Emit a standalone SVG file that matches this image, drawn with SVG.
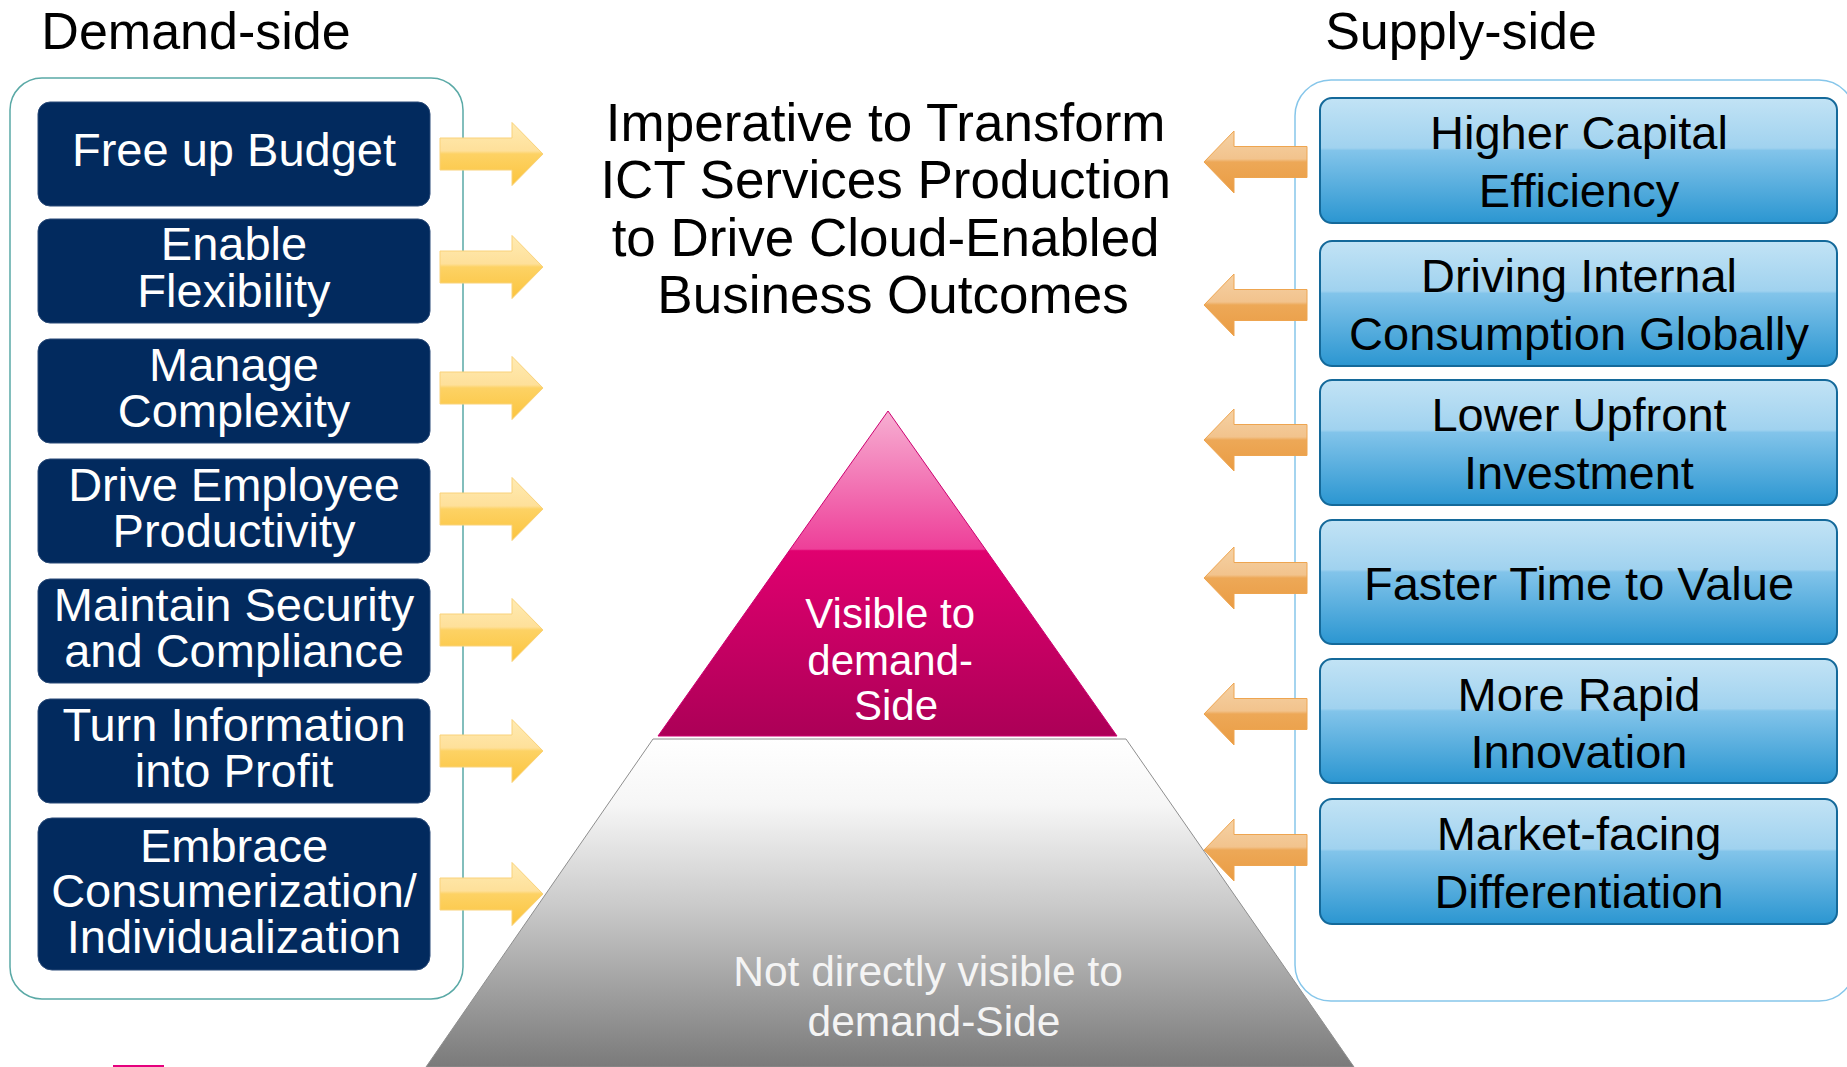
<svg xmlns="http://www.w3.org/2000/svg" width="1847" height="1067" viewBox="0 0 1847 1067">
<defs>
<style>
.t{font-family:"Liberation Sans",Arial,sans-serif;text-anchor:middle}
.dbox{fill:#022A5E;stroke:#2a4a78;stroke-width:1}
.dtxt{fill:#FFFFFF;font-size:47px}
.bbox{fill:url(#gBlue);stroke:#14699A;stroke-width:2}
.btxt{fill:#000000;font-size:47px}
.yarr{fill:url(#gYel);stroke:#F9D27A;stroke-width:1}
.oarr{fill:url(#gOra);stroke:#EEA550;stroke-width:1}
</style>
<linearGradient id="gBlue" x1="0" y1="0" x2="0" y2="1">
<stop offset="0" stop-color="#C2E3F5"/>
<stop offset="0.40" stop-color="#A0D2EF"/>
<stop offset="0.42" stop-color="#82C4EA"/>
<stop offset="1" stop-color="#2B96D1"/>
</linearGradient>
<linearGradient id="gYel" x1="0" y1="0" x2="0" y2="1">
<stop offset="0" stop-color="#FFEBB3"/>
<stop offset="0.45" stop-color="#FEE09A"/>
<stop offset="0.5" stop-color="#FDD264"/>
<stop offset="1" stop-color="#FBC43E"/>
</linearGradient>
<linearGradient id="gOra" x1="0" y1="0" x2="0" y2="1">
<stop offset="0" stop-color="#F5D1A4"/>
<stop offset="0.45" stop-color="#F2C38D"/>
<stop offset="0.5" stop-color="#EDA857"/>
<stop offset="1" stop-color="#EA9C43"/>
</linearGradient>
<linearGradient id="gPink" gradientUnits="userSpaceOnUse" x1="0" y1="411" x2="0" y2="736">
<stop offset="0" stop-color="#F7AFD2"/>
<stop offset="0.425" stop-color="#EE3F99"/>
<stop offset="0.43" stop-color="#E0006F"/>
<stop offset="1" stop-color="#AC0057"/>
</linearGradient>
<linearGradient id="gGray" gradientUnits="userSpaceOnUse" x1="0" y1="739" x2="0" y2="1067">
<stop offset="0" stop-color="#FFFFFF"/>
<stop offset="0.2" stop-color="#F6F6F6"/>
<stop offset="0.5" stop-color="#CBCBCB"/>
<stop offset="1" stop-color="#7A7A7A"/>
</linearGradient>
</defs>
<rect width="1847" height="1067" fill="#FFFFFF"/>

<g id="titles">
<text class="t" x="196" y="49" font-size="52">Demand-side</text>
<text class="t" x="1461" y="49" font-size="52">Supply-side</text>
</g>

<g id="demand-container">
<rect x="10" y="78" width="453" height="921" rx="32" fill="none" stroke="#5AA9A6" stroke-width="1.5"/>
</g>
<g id="supply-container">
<rect x="1295" y="80" width="560" height="921" rx="36" fill="none" stroke="#86C6EA" stroke-width="1.5"/>
</g>

<g id="center-title">
<text class="t" font-size="53" fill="#000">
<tspan x="893" y="141">Imperative to Transform</tspan>
<tspan x="893" y="198">ICT Services Production</tspan>
<tspan x="893" y="256">to Drive Cloud-Enabled</tspan>
<tspan x="893" y="313">Business Outcomes</tspan>
</text>
</g>

<g id="pyramid-base">
<polygon points="653,739 1126,739 1354,1067 426,1067" fill="url(#gGray)" stroke="#8E8E8E" stroke-width="1"/>
<text class="t" font-size="42.5" fill="#F4F4F4">
<tspan x="934" y="986">Not directly visible to</tspan>
<tspan x="934" y="1036">demand-Side</tspan>
</text>
</g>
<g id="pyramid-top">
<polygon points="888,411 1117,736 658,736" fill="url(#gPink)" stroke="#CC0070" stroke-width="1"/>
<text class="t" font-size="42" fill="#FFFFFF">
<tspan x="896" y="628">Visible to</tspan>
<tspan x="896" y="675">demand-</tspan>
<tspan x="896" y="720">Side</tspan>
</text>
</g>

<g id="d1"><rect class="dbox" x="38" y="102" width="392" height="104" rx="12"/><text class="t dtxt" x="234" y="166">Free up Budget</text></g>
<g id="d2"><rect class="dbox" x="38" y="219" width="392" height="104" rx="12"/><text class="t dtxt"><tspan x="234" y="260">Enable</tspan><tspan x="234" y="307">Flexibility</tspan></text></g>
<g id="d3"><rect class="dbox" x="38" y="339" width="392" height="104" rx="12"/><text class="t dtxt"><tspan x="234" y="381">Manage</tspan><tspan x="234" y="427">Complexity</tspan></text></g>
<g id="d4"><rect class="dbox" x="38" y="459" width="392" height="104" rx="12"/><text class="t dtxt"><tspan x="234" y="501">Drive Employee</tspan><tspan x="234" y="547">Productivity</tspan></text></g>
<g id="d5"><rect class="dbox" x="38" y="579" width="392" height="104" rx="12"/><text class="t dtxt"><tspan x="234" y="621">Maintain Security</tspan><tspan x="234" y="667">and Compliance</tspan></text></g>
<g id="d6"><rect class="dbox" x="38" y="699" width="392" height="104" rx="12"/><text class="t dtxt"><tspan x="234" y="741">Turn Information</tspan><tspan x="234" y="787">into Profit</tspan></text></g>
<g id="d7"><rect class="dbox" x="38" y="818" width="392" height="152" rx="14"/><text class="t dtxt"><tspan x="234" y="862">Embrace</tspan><tspan x="234" y="907">Consumerization/</tspan><tspan x="234" y="953">Individualization</tspan></text></g>

<g id="s1"><rect class="bbox" x="1320" y="98" width="517" height="125" rx="12"/><text class="t btxt"><tspan x="1579" y="149">Higher Capital</tspan><tspan x="1579" y="207">Efficiency</tspan></text></g>
<g id="s2"><rect class="bbox" x="1320" y="241" width="517" height="125" rx="12"/><text class="t btxt"><tspan x="1579" y="292">Driving Internal</tspan><tspan x="1579" y="350">Consumption Globally</tspan></text></g>
<g id="s3"><rect class="bbox" x="1320" y="380" width="517" height="125" rx="12"/><text class="t btxt"><tspan x="1579" y="431">Lower Upfront</tspan><tspan x="1579" y="489">Investment</tspan></text></g>
<g id="s4"><rect class="bbox" x="1320" y="520" width="517" height="124" rx="12"/><text class="t btxt" x="1579" y="600">Faster Time to Value</text></g>
<g id="s5"><rect class="bbox" x="1320" y="659" width="517" height="124" rx="12"/><text class="t btxt"><tspan x="1579" y="711">More Rapid</tspan><tspan x="1579" y="768">Innovation</tspan></text></g>
<g id="s6"><rect class="bbox" x="1320" y="799" width="517" height="125" rx="12"/><text class="t btxt"><tspan x="1579" y="850">Market-facing</tspan><tspan x="1579" y="908">Differentiation</tspan></text></g>

<g id="connectors">
<path class="yarr" d="M440,138 L512,138 L512,122.5 L543,154 L512,185.5 L512,170 L440,170 Z"/>
<path class="yarr" d="M440,251 L512,251 L512,235.5 L543,267 L512,298.5 L512,283 L440,283 Z"/>
<path class="yarr" d="M440,372 L512,372 L512,356.5 L543,388 L512,419.5 L512,404 L440,404 Z"/>
<path class="yarr" d="M440,493 L512,493 L512,477.5 L543,509 L512,540.5 L512,525 L440,525 Z"/>
<path class="yarr" d="M440,614 L512,614 L512,598.5 L543,630 L512,661.5 L512,646 L440,646 Z"/>
<path class="yarr" d="M440,735 L512,735 L512,719.5 L543,751 L512,782.5 L512,767 L440,767 Z"/>
<path class="yarr" d="M440,878 L512,878 L512,862.5 L543,894 L512,925.5 L512,910 L440,910 Z"/>
<path class="oarr" d="M1307,146.5 L1234,146.5 L1234,131 L1204,162 L1234,193 L1234,177.5 L1307,177.5 Z"/>
<path class="oarr" d="M1307,289.5 L1234,289.5 L1234,274 L1204,305 L1234,336 L1234,320.5 L1307,320.5 Z"/>
<path class="oarr" d="M1307,424.5 L1234,424.5 L1234,409 L1204,440 L1234,471 L1234,455.5 L1307,455.5 Z"/>
<path class="oarr" d="M1307,562.5 L1234,562.5 L1234,547 L1204,578 L1234,609 L1234,593.5 L1307,593.5 Z"/>
<path class="oarr" d="M1307,698.5 L1234,698.5 L1234,683 L1204,714 L1234,745 L1234,729.5 L1307,729.5 Z"/>
<path class="oarr" d="M1307,834.5 L1234,834.5 L1234,819 L1204,850 L1234,881 L1234,865.5 L1307,865.5 Z"/>
</g>

<rect x="113" y="1065" width="51" height="3" fill="#E5007E"/>
</svg>
